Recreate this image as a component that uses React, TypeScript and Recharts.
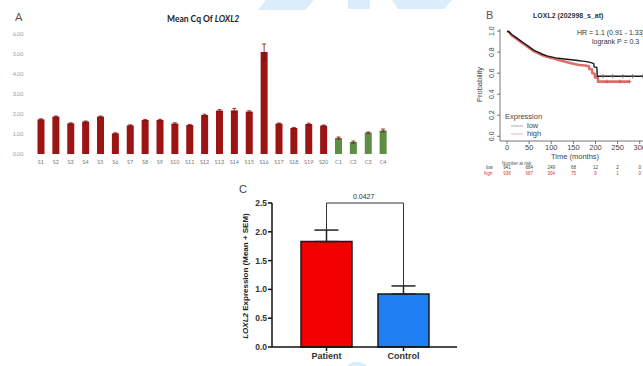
import React from 'react'
import { BarChart, Bar, XAxis, YAxis, ErrorBar, Cell, ComposedChart, Line, Scatter, ReferenceLine } from 'recharts'

// panel A - mean Cq per sample
const samples = ['S1', 'S2', 'S3', 'S4', 'S5', 'S6', 'S7', 'S8', 'S9', 'S10', 'S11', 'S12', 'S13', 'S14', 'S15', 'S16', 'S17', 'S18', 'S19', 'S20', 'C1', 'C2', 'C3', 'C4']
const meanCq = [1.73, 1.87, 1.53, 1.62, 1.87, 1.03, 1.43, 1.7, 1.7, 1.52, 1.45, 1.95, 2.17, 2.18, 2.12, 5.1, 1.52, 1.3, 1.5, 1.42, 0.8, 0.6, 1.07, 1.18]
const cqErr = [0.03, 0.03, 0.03, 0.03, 0.03, 0.03, 0.03, 0.03, 0.03, 0.04, 0.03, 0.04, 0.05, 0.1, 0.04, 0.4, 0.03, 0.03, 0.04, 0.03, 0.05, 0.05, 0.03, 0.07]
const cqTicks = [0, 1, 2, 3, 4, 5, 6]

// panel B - Kaplan-Meier (LOXL2 low / high)
const lowTimes = [0, 5, 10, 20, 30, 40, 50, 60, 70, 80, 90, 100, 110, 120, 130, 140, 150, 160, 170, 180, 190, 196, 197, 203, 204, 330]
const lowSurv = [1.0, 0.99, 0.97, 0.94, 0.91, 0.88, 0.85, 0.82, 0.8, 0.78, 0.765, 0.755, 0.745, 0.74, 0.735, 0.73, 0.725, 0.72, 0.715, 0.71, 0.7, 0.69, 0.66, 0.655, 0.57, 0.57]
const highTimes = [0, 5, 10, 20, 30, 40, 50, 60, 70, 80, 90, 100, 110, 120, 130, 140, 150, 160, 170, 180, 185, 186, 192, 193, 198, 199, 205, 206, 277]
const highSurv = [1.0, 0.99, 0.96, 0.93, 0.9, 0.87, 0.84, 0.81, 0.79, 0.77, 0.755, 0.745, 0.735, 0.72, 0.71, 0.7, 0.69, 0.68, 0.675, 0.67, 0.665, 0.64, 0.635, 0.6, 0.595, 0.56, 0.555, 0.52, 0.52]
const censorLowTimes = [217, 239, 262, 284, 307]
const censorLowSurv = [0.57, 0.57, 0.57, 0.57, 0.57]
const censorHighTimes = [226, 255, 277]
const censorHighSurv = [0.52, 0.52, 0.52]
const kmTimeTicks = [0, 50, 100, 150, 200, 250, 300]
const kmProbTicks = [0, 0.2, 0.4, 0.6, 0.8, 1.0]
const riskLow = [941, 684, 249, 68, 12, 2, 0]
const riskHigh = [938, 687, 304, 75, 9, 1, 0]

// panel C - patient vs control
const groups = ['Patient', 'Control']
const groupMean = [1.83, 0.92]
const groupSem = [0.2, 0.14]
const groupColors = ['#f20000', '#1f7ff2']
const exprTicks = [0, 0.5, 1, 1.5, 2, 2.5]
const bracketY = 2.5
const pValue = '0.0427'

const cqData = samples.map((name, i) => ({ name, mean: meanCq[i], err: cqErr[i] }))
const lowCurve = lowTimes.map((t, i) => ({ t, s: lowSurv[i] }))
const highCurve = highTimes.map((t, i) => ({ t, s: highSurv[i] }))
const lowCens = censorLowTimes.map((t, i) => ({ t, s: censorLowSurv[i] }))
const highCens = censorHighTimes.map((t, i) => ({ t, s: censorHighSurv[i] }))
const groupData = groups.map((name, i) => ({ name, mean: groupMean[i], sem: [0, groupSem[i]] }))

const sansR = '"Liberation Sans", Arial, sans-serif'
const sansA = 'Lato, "Open Sans", sans-serif'

// KM plot geometry (shared by the chart and the risk table below it)
const kmLeft = 460
const kmMargin = { top: 29, right: 7, left: 10, bottom: 0 }
const kmYAxisW = 30
const kmWidth = 200
const kmDomain = [-16, 330]
const kmX = (t: number) => {
  const x0 = kmLeft + kmMargin.left + kmYAxisW
  const w = kmWidth - kmMargin.left - kmMargin.right - kmYAxisW
  return x0 + ((t - kmDomain[0]) / (kmDomain[1] - kmDomain[0])) * w
}

const Plus = (p: any) => {
  const { cx, cy, fill } = p
  return (
    <g stroke={fill} strokeWidth={0.8}>
      <line x1={cx - 2} x2={cx + 2} y1={cy} y2={cy} />
      <line x1={cx} x2={cx} y1={cy - 2} y2={cy + 2} />
    </g>
  )
}

const ProbTick = (p: any) => {
  const { x, y, payload } = p
  return (
    <text x={x} y={y} transform={`rotate(-90 ${x} ${y})`} textAnchor="middle" fontSize={7} fill="#444" stroke="none" fontFamily={sansR}>
      {payload.value.toFixed(1)}
    </text>
  )
}

const abs = (left: number, top: number, extra: React.CSSProperties = {}): React.CSSProperties => ({ position: 'absolute', left, top, whiteSpace: 'nowrap', lineHeight: 1, ...extra })

export default function App() {
  return (
    <div style={{ position: 'absolute', left: 0, top: 0, width: 643, height: 366, overflow: 'hidden', background: '#fff' }}>
      {/* faint watermark */}
      <svg width={643} height={366} style={{ position: 'absolute', left: 0, top: 0 }}>
        <polygon points="266,0 314,0 305,10 258,10" fill="#d9eefa" />
        <polygon points="348,0 370,0 370,9 348,9" fill="#d9eefa" />
        <polygon points="392,0 452,0 444,9 398,9" fill="#d9eefa" />
        <ellipse cx={357} cy={367} rx={10} ry={5} fill="#d9eefa" />
      </svg>

      {/* A */}
      <div style={abs(15, 11, { fontSize: 11, color: '#555', fontFamily: sansA })}>A</div>
      <div style={abs(167, 15, { fontSize: 8.5, fontWeight: 700, color: '#222', fontFamily: sansA })}>
        Mean Cq Of <i>LOXL2</i>
      </div>
      <div style={{ position: 'absolute', left: 0, top: 0 }}>
        <BarChart width={400} height={175} data={cqData} margin={{ top: 34, right: 9.5, left: 5.5, bottom: 0 }}>
          <YAxis width={28} domain={[0, 6]} ticks={cqTicks} tickFormatter={(v: number) => v.toFixed(2)} axisLine={false} tickLine={false} tick={{ fontSize: 5.5, fill: '#999', fontFamily: sansA }} tickMargin={4} />
          <XAxis dataKey="name" height={21} interval={0} axisLine={false} tickLine={false} tickSize={0} tickMargin={6} tick={{ fontSize: 5.5, fill: '#777', fontFamily: sansA }} />
          <Bar dataKey="mean" barSize={7} isAnimationActive={false}>
            {cqData.map((d) => (
              <Cell key={d.name} fill={d.name.startsWith('C') ? '#5e8e44' : '#9c1414'} />
            ))}
            <ErrorBar dataKey="err" width={2} stroke="#6e1010" strokeWidth={0.8} />
          </Bar>
        </BarChart>
      </div>

      {/* B */}
      <div style={abs(486, 10, { fontSize: 11, color: '#555', fontFamily: sansR })}>B</div>
      <div style={abs(533, 12, { fontSize: 7, fontWeight: 700, color: '#333', fontFamily: sansR })}>LOXL2 (202998_s_at)</div>
      <div style={abs(577, 29, { fontSize: 7, color: '#333', fontFamily: sansR })}>HR = 1.1 (0.91 - 1.33)</div>
      <div style={abs(592, 38, { fontSize: 7, color: '#333', fontFamily: sansR })}>logrank P = 0.3</div>
      <div style={abs(476, 102, { fontSize: 7.5, color: '#444', fontFamily: sansR, transform: 'rotate(-90deg)', transformOrigin: 'left top' })}>Probability</div>
      <div style={abs(505, 113, { fontSize: 7.5, color: '#444', fontFamily: sansR })}>Expression</div>
      <svg width={20} height={20} style={{ position: 'absolute', left: 510, top: 120 }}>
        <line x1={1} x2={13} y1={6} y2={6} stroke="#999" strokeWidth={0.8} />
        <line x1={1} x2={13} y1={14} y2={14} stroke="#e6a0a0" strokeWidth={0.8} />
      </svg>
      <div style={abs(527, 122, { fontSize: 7.5, color: '#444', fontFamily: sansR })}>low</div>
      <div style={abs(527, 130, { fontSize: 7.5, color: '#444', fontFamily: sansR })}>high</div>
      <div style={abs(551, 153, { fontSize: 7.5, color: '#444', fontFamily: sansR })}>Time (months)</div>
      <div style={abs(502, 161.5, { fontSize: 4.5, color: '#555', fontFamily: sansR })}>Number at risk</div>
      <div style={abs(486, 166, { fontSize: 4.5, color: '#444', fontFamily: sansR })}>low</div>
      <div style={abs(484, 171.5, { fontSize: 4.5, color: '#d33', fontFamily: sansR })}>high</div>
      {kmTimeTicks.map((t, i) => (
        <React.Fragment key={t}>
          <div style={abs(kmX(t), 166, { fontSize: 4.5, color: '#444', fontFamily: sansR, transform: 'translateX(-50%)' })}>{riskLow[i]}</div>
          <div style={abs(kmX(t), 171.5, { fontSize: 4.5, color: '#d33', fontFamily: sansR, transform: 'translateX(-50%)' })}>{riskHigh[i]}</div>
        </React.Fragment>
      ))}
      <div style={{ position: 'absolute', left: kmLeft, top: 0 }}>
        <ComposedChart width={kmWidth} height={154} margin={kmMargin}>
          <YAxis type="number" dataKey="s" width={kmYAxisW} domain={[-0.045, 1.02]} ticks={kmProbTicks} interval={0} tick={<ProbTick />} tickSize={3} tickMargin={3} stroke="#555" strokeWidth={0.8} />
          <XAxis type="number" dataKey="t" domain={kmDomain} ticks={kmTimeTicks} interval={0} height={13} tickSize={3} tickMargin={1} stroke="#555" strokeWidth={0.8} tick={{ fontSize: 7.5, fill: '#444', fontFamily: sansR }} allowDataOverflow />
          <Line data={highCurve} dataKey="s" type="linear" stroke="#d9534f" strokeOpacity={0.85} strokeWidth={2.6} dot={false} isAnimationActive={false} />
          <Line data={lowCurve} dataKey="s" type="linear" stroke="#1a1a1a" strokeWidth={1.4} dot={false} isAnimationActive={false} />
          <Scatter data={highCens} dataKey="s" fill="#d9534f" shape={Plus} isAnimationActive={false} />
          <Scatter data={lowCens} dataKey="s" fill="#555" shape={Plus} isAnimationActive={false} />
        </ComposedChart>
      </div>

      {/* C */}
      <div style={abs(239, 184, { fontSize: 11, color: '#444', fontFamily: sansR })}>C</div>
      <div style={abs(353, 193, { fontSize: 7, color: '#333', fontFamily: sansR })}>{pValue}</div>
      <div style={abs(246, 276, { fontSize: 8, fontWeight: 700, color: '#222', fontFamily: sansR, transform: 'translate(-50%, -50%) rotate(-90deg)' })}>
        <i>LOXL2</i> Expression (Mean + SEM)
      </div>
      <div style={{ position: 'absolute', left: 220, top: 180 }}>
        <BarChart width={250} height={187} data={groupData} margin={{ top: 23, right: 13, left: 22, bottom: 0 }}>
          <YAxis width={30} domain={[0, 2.5]} ticks={exprTicks} tickFormatter={(v: number) => v.toFixed(1)} stroke="#111" strokeWidth={1.5} tickSize={4} tickMargin={1} tick={{ fontSize: 8.5, fontWeight: 700, fill: '#333', fontFamily: sansR }} />
          <XAxis dataKey="name" height={20} padding={{ left: 16, right: 15 }} stroke="#111" strokeWidth={1.5} tickSize={4} tickMargin={2} tick={{ fontSize: 9, fontWeight: 700, fill: '#333', fontFamily: sansR }} />
          <Bar dataKey="mean" barSize={51} stroke="#1a1a1a" strokeWidth={1.5} isAnimationActive={false}>
            {groupData.map((d, i) => (
              <Cell key={d.name} fill={groupColors[i]} />
            ))}
            <ErrorBar dataKey="sem" width={12} stroke="#222" strokeWidth={1.5} />
          </Bar>
          <ReferenceLine segment={[{ x: groups[0], y: bracketY }, { x: groups[1], y: bracketY }]} stroke="#333" strokeWidth={1} ifOverflow="visible" />
          <ReferenceLine segment={[{ x: groups[0], y: groupMean[0] + groupSem[0] }, { x: groups[0], y: bracketY }]} stroke="#333" strokeWidth={1} ifOverflow="visible" />
          <ReferenceLine segment={[{ x: groups[1], y: groupMean[1] + groupSem[1] }, { x: groups[1], y: bracketY }]} stroke="#333" strokeWidth={1} ifOverflow="visible" />
        </BarChart>
      </div>
    </div>
  )
}
